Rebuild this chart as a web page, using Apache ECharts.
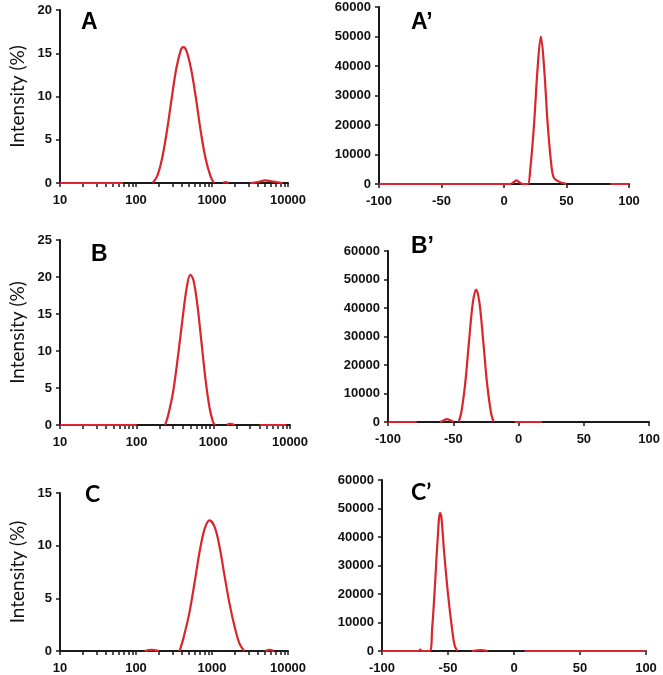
<!DOCTYPE html>
<html>
<head>
<meta charset="utf-8">
<script src="https://cdn.jsdelivr.net/npm/echarts@6/dist/echarts.min.js"></script>
<style>
html,body{margin:0;padding:0;background:#fff;}
#chart{width:663px;height:675px;}
</style>
</head>
<body>
<div id="chart"></div>
<script>
// ---- Data ----
// Size distributions (log x: diameter, y: intensity %)
const aX = [10, 20, 40, 68, null, 165, 190, 220, 255, 295, 340, 390, 420, 460, 530, 615, 710, 825, 955, 1060, null, 1400, 1500, 1650, null, 3200, 4000, 5000, 6000, 7000, 8500];
const aY = [0, 0, 0, 0, null, 0, 0.8, 2.8, 6.0, 9.8, 13.3, 15.4, 15.7, 15.3, 13.2, 9.8, 6.0, 2.8, 0.8, 0, null, 0, 0.1, 0, null, 0, 0.1, 0.3, 0.2, 0.1, 0];
const bX = [10, 20, 50, 100, null, 235, 260, 300, 345, 395, 450, 500, 550, 620, 700, 790, 890, 990, 1050, null, 1500, 1650, 1900, null, 4000, 6000, 9000];
const bY = [0, 0, 0, 0, null, 0, 1.5, 4.6, 9.2, 14.2, 18.6, 20.3, 19.6, 16.2, 11.2, 6.2, 2.4, 0.4, 0, null, 0, 0.15, 0, null, 0, 0, 0];
const cX = [130, 160, 200, null, 375, 420, 500, 590, 690, 800, 930, 1080, 1250, 1450, 1700, 2000, 2300, 2650, null, 5000, 5800, 6500];
const cY = [0, 0.1, 0, null, 0, 1.2, 3.5, 6.5, 9.5, 11.6, 12.4, 11.8, 10.0, 7.3, 4.5, 2.2, 0.7, 0, null, 0, 0.1, 0];
// Zeta potential distributions (x: mV, y: counts)
const apX = [-100, -50, 0, 5, 8, 10, 12, 15, 19, 21, 24, 27, 29.5, 32, 35, 38, 40, 44, 48, 50, null, 85, 100];
const apY = [0, 0, 0, 0, 700, 1200, 700, 0, 0, 5000, 20000, 40000, 50000, 40000, 20000, 6000, 2000, 800, 200, 0, null, 0, 0];
const bpX = [-100, -78, null, -60, -57, -55, -52, -50, null, -46, -44, -41, -38, -35, -32.5, -30, -27, -24, -21, -19, null, -3, 18];
const bpY = [0, 0, null, 0, 600, 1000, 500, 0, null, 0, 3000, 13000, 28000, 42000, 46500, 42000, 28000, 13000, 3000, 0, null, 0, 0];
const cpX = [-100, -72, -71, -70, -64, -62, -60, -58, -56, -55, -53, -50, -47, -45, -43, null, -32, -25, -20, null, 8, 100];
const cpY = [0, 0, 500, 0, 0, 8000, 22000, 38000, 48500, 47000, 35000, 20000, 8000, 2000, 0, null, 0, 300, 0, null, 0, 0];

const logLabels = [10, 100, 1000, 10000];
const logTicks = [10,20,30,40,50,60,70,80,90,100,200,300,400,500,600,700,800,900,1000,2000,3000,4000,5000,6000,7000,8000,9000,10000];
const panelLabels = ['A', 'A\u2019', 'B', 'B\u2019', 'C', 'C\u2019'];
const yNameLeft = 'Intensity (%)';

// ---- Layout ----
const grids = [
  {left: 60, top: 10, width: 228, height: 173},
  {left: 379, top: 7, width: 250, height: 177},
  {left: 60, top: 240, width: 230, height: 185},
  {left: 388, top: 251, width: 262, height: 171},
  {left: 60, top: 493, width: 228, height: 159},
  {left: 382, top: 480, width: 264, height: 172}
];
const yMax = [20, 60000, 25, 60000, 15, 60000];
const yInt = [5, 10000, 5, 10000, 5, 10000];
const series = [[aX, aY], [apX, apY], [bX, bY], [bpX, bpY], [cX, cY], [cpX, cpY]];
const titlePos = [
  {left: 76, top: 6, font: 'Liberation Sans'},
  {left: 406, top: 6, font: 'Liberation Sans'},
  {left: 86, top: 238, font: 'Liberation Sans'},
  {left: 406, top: 230, font: 'Liberation Sans'},
  {left: 80, top: 478, font: 'Lato'},
  {left: 406, top: 476, font: 'Lato'}
];

const axisCol = '#1a1a1a';
const labelFont = {fontFamily: 'Liberation Sans', fontWeight: 'bold', fontSize: 13, color: '#111'};

const xAxes = [], yAxes = [], ser = [], titles = [];
for (let i = 0; i < 6; i++) {
  const isLog = (i % 2 === 0);
  if (isLog) {
    xAxes.push({
      type: 'log', logBase: 10, min: 10, max: 10000, gridIndex: i,
      axisLine: {lineStyle: {color: axisCol, width: 2}},
      axisTick: {show: true, length: 4, inside: false, customValues: logTicks, lineStyle: {color: axisCol, width: 1.5}},
      axisLabel: Object.assign({customValues: logLabels, margin: 11, formatter: v => String(Math.round(v))}, labelFont),
      splitLine: {show: false}, minorTick: {show: false}
    });
  } else {
    xAxes.push({
      type: 'value', min: -100, max: 100, interval: 50, gridIndex: i,
      axisLine: {onZero: false, lineStyle: {color: axisCol, width: 2}},
      axisTick: {show: true, length: 4, lineStyle: {color: axisCol, width: 1.5}},
      axisLabel: Object.assign({margin: 11, formatter: v => String(v)}, labelFont),
      splitLine: {show: false}
    });
  }
  yAxes.push({
    type: 'value', min: 0, max: yMax[i], interval: yInt[i], gridIndex: i,
    name: isLog ? yNameLeft : '',
    nameLocation: 'middle', nameGap: 33, nameRotate: 90,
    nameTextStyle: {fontFamily: 'Lato', fontSize: 19, color: '#111'},
    axisLine: {show: true, onZero: false, lineStyle: {color: axisCol, width: 2}},
    axisTick: {show: true, length: 4, lineStyle: {color: axisCol, width: 1.5}},
    axisLabel: Object.assign({margin: 8, formatter: v => String(v)}, labelFont),
    splitLine: {show: false}
  });
  const [xs, ys] = series[i];
  ser.push({
    type: 'line', xAxisIndex: i, yAxisIndex: i,
    data: xs.map((x, k) => (x === null ? '-' : [x, ys[k]])),
    showSymbol: false, smooth: 0.35, connectNulls: false,
    lineStyle: {color: '#d8262c', width: 2.2},
    z: 5
  });
  titles.push({
    text: panelLabels[i], left: titlePos[i].left, top: titlePos[i].top,
    textStyle: {fontFamily: titlePos[i].font, fontWeight: 'bold', fontSize: 23, color: '#000'}
  });
}

const chart = echarts.init(document.getElementById('chart'), null, {renderer: 'canvas'});
chart.setOption({
  animation: false,
  backgroundColor: '#fff',
  title: titles,
  grid: grids,
  xAxis: xAxes,
  yAxis: yAxes,
  series: ser
});
</script>
</body>
</html>
